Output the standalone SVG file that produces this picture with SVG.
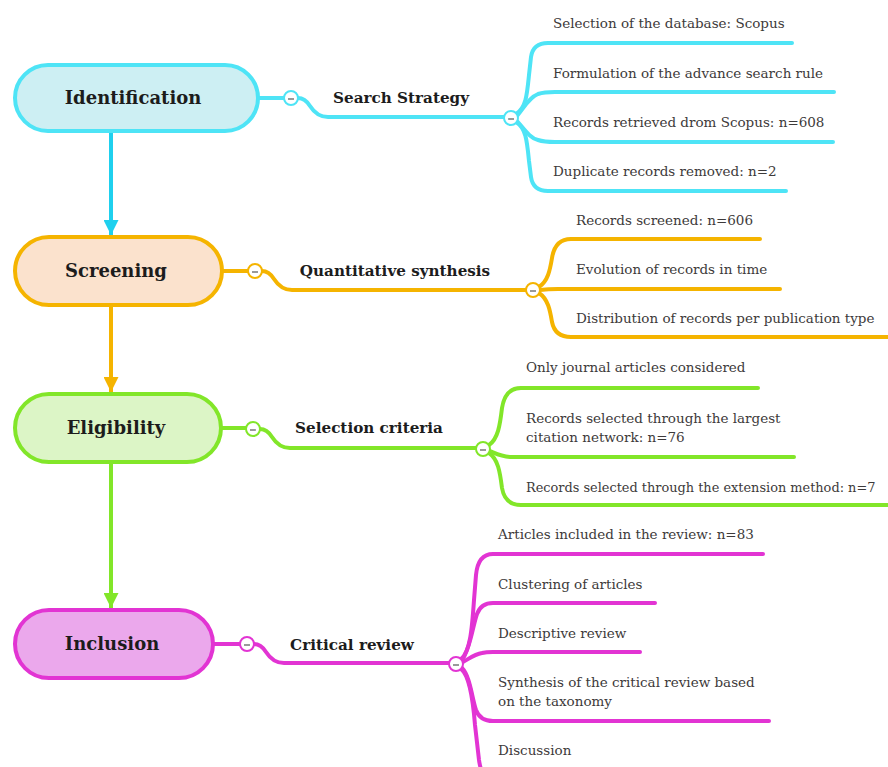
<svg xmlns="http://www.w3.org/2000/svg" width="888" height="767" viewBox="0 0 888 767">
<defs>
<style>
.node{stroke-width:4}
.lbl{font-family:"DejaVu Serif","Liberation Serif",serif;font-weight:bold;fill:#1c1c1c}
.big{font-size:18px}
.mid{font-size:15.2px}
.item{font-family:"DejaVu Serif","Liberation Serif",serif;font-size:13.5px;fill:#3d3a3a}
.br{fill:none;stroke-width:4;stroke-linecap:round;stroke-linejoin:round}
.tog{fill:#fff;stroke-width:2}
.tm{stroke:#555;stroke-width:1.2}
.c{stroke:#4ee4f6}.o{stroke:#f5b400}.g{stroke:#82e629}.m{stroke:#e234d3}
</style>
<marker id="ah-c" viewBox="0 0 10 10" refX="10" refY="5" markerWidth="15" markerHeight="15" markerUnits="userSpaceOnUse" orient="auto"><path d="M0,0 L10,5 L0,10 Z" fill="#1fd0ee"/></marker>
<marker id="ah-o" viewBox="0 0 10 10" refX="10" refY="5" markerWidth="15" markerHeight="15" markerUnits="userSpaceOnUse" orient="auto"><path d="M0,0 L10,5 L0,10 Z" fill="#f5b400"/></marker>
<marker id="ah-g" viewBox="0 0 10 10" refX="10" refY="5" markerWidth="15" markerHeight="15" markerUnits="userSpaceOnUse" orient="auto"><path d="M0,0 L10,5 L0,10 Z" fill="#82e629"/></marker>
</defs>
<rect width="888" height="767" fill="#fff"/>

<g id="connectors">
<line x1="111" y1="132" x2="111" y2="235" stroke="#1fd0ee" stroke-width="4" marker-end="url(#ah-c)"/>
<line x1="111" y1="307" x2="111" y2="392" stroke="#f5b400" stroke-width="4" marker-end="url(#ah-o)"/>
<line x1="111" y1="462" x2="111" y2="608" stroke="#82e629" stroke-width="4" marker-end="url(#ah-g)"/>

<path class="br c" d="M258,98 H284 M298,98 Q305,98 310,106 Q317,117 328,117 H504"/>
<path class="br c" d="M516,114 C526,108 527,95 529,75 L531,57 Q533,43 548,43 H792"/>
<path class="br c" d="M517,116 C525,106 530,97 538,94 Q544,92 555,92 H834"/>
<path class="br c" d="M517,121 C525,130 530,138 538,140 Q544,142 555,142 H833"/>
<path class="br c" d="M516,122 C526,128 527,141 529,161 L531,177 Q533,191 548,191 H786"/>

<path class="br o" d="M222,271 H248 M262,271 Q269,271 274,279 Q281,290 292,290 H526"/>
<path class="br o" d="M539,287 C548,281 550,270 552,258 Q555,239 571,239 H760"/>
<path class="br o" d="M540,290 Q548,289 558,289 H780"/>
<path class="br o" d="M539,293 C548,299 550,310 552,322 Q555,337 571,337 H890"/>

<path class="br g" d="M221,428 H246 M260,429 Q267,429 272,437 Q279,448 290,448 H476"/>
<path class="br g" d="M489,445 C498,439 500,425 502,408 Q505,388 521,388 H758"/>
<path class="br g" d="M490,451 C497,454 502,457 512,457 H794"/>
<path class="br g" d="M489,453 C498,459 500,472 502,488 Q505,505 521,505 H890"/>

<path class="br m" d="M213,644 H240 M254,644 Q261,644 266,652 Q273,663 284,663 H449"/>
<path class="br m" d="M461,659 C470,652 472,630 474,600 L476,575 Q478,554 493,554 H763"/>
<path class="br m" d="M462,660 C470,650 473,625 477,614 Q481,603 493,603 H655"/>
<path class="br m" d="M463,662 C470,658 475,654 482,653 Q486,652 493,652 H640"/>
<path class="br m" d="M462,668 C470,676 472,698 476,710 Q480,721 493,721 H769"/>
<path class="br m" d="M461,669 C470,676 473,700 475,725 L479,760 Q480,767 482,772"/>

<g class="c"><circle class="tog" cx="291" cy="98" r="7"/><line class="tm" x1="288" y1="99" x2="294" y2="99"/></g>
<g class="c"><circle class="tog" cx="511" cy="118" r="7"/><line class="tm" x1="508" y1="119" x2="514" y2="119"/></g>
<g class="o"><circle class="tog" cx="255" cy="271" r="7"/><line class="tm" x1="252" y1="272" x2="258" y2="272"/></g>
<g class="o"><circle class="tog" cx="533" cy="290" r="7"/><line class="tm" x1="530" y1="291" x2="536" y2="291"/></g>
<g class="g"><circle class="tog" cx="253" cy="429" r="7"/><line class="tm" x1="250" y1="430" x2="256" y2="430"/></g>
<g class="g"><circle class="tog" cx="483" cy="449" r="7"/><line class="tm" x1="480" y1="450" x2="486" y2="450"/></g>
<g class="m"><circle class="tog" cx="247" cy="644" r="7"/><line class="tm" x1="244" y1="645" x2="250" y2="645"/></g>
<g class="m"><circle class="tog" cx="456" cy="664" r="7"/><line class="tm" x1="453" y1="665" x2="459" y2="665"/></g>
</g>

<g id="identification">
<rect class="node" x="15" y="65" width="243" height="66" rx="33" fill="#cdeff3" stroke="#4ee4f6"/>
<text class="lbl big" x="133" y="104" text-anchor="middle">Identification</text>
</g>
<g id="search-strategy"><text class="lbl mid" x="401" y="103" text-anchor="middle">Search Strategy</text></g>
<g id="id-items">
<text class="item" x="553" y="28">Selection of the database: Scopus</text>
<text class="item" x="553" y="78">Formulation of the advance search rule</text>
<text class="item" x="553" y="127">Records retrieved drom Scopus: n=608</text>
<text class="item" x="553" y="176">Duplicate records removed: n=2</text>
</g>

<g id="screening">
<rect class="node" x="15" y="237" width="207" height="68" rx="34" fill="#fbe2cd" stroke="#f5b400"/>
<text class="lbl big" x="116" y="277" text-anchor="middle">Screening</text>
</g>
<g id="quantitative-synthesis"><text class="lbl mid" x="395" y="276" text-anchor="middle">Quantitative synthesis</text></g>
<g id="sc-items">
<text class="item" x="576" y="225">Records screened: n=606</text>
<text class="item" x="576" y="274">Evolution of records in time</text>
<text class="item" x="576" y="323">Distribution of records per publication type</text>
</g>

<g id="eligibility">
<rect class="node" x="15" y="394" width="206" height="68" rx="34" fill="#dcf5c6" stroke="#82e629"/>
<text class="lbl big" x="116" y="434" text-anchor="middle">Eligibility</text>
</g>
<g id="selection-criteria"><text class="lbl mid" x="369" y="433" text-anchor="middle">Selection criteria</text></g>
<g id="el-items">
<text class="item" x="526" y="372">Only journal articles considered</text>
<text class="item" x="526" y="423">Records selected through the largest</text>
<text class="item" x="526" y="442">citation network: n=76</text>
<text class="item" x="526" y="492" style="font-size:12.9px">Records selected through the extension method: n=7</text>
</g>

<g id="inclusion">
<rect class="node" x="15" y="610" width="198" height="68" rx="34" fill="#eba8ec" stroke="#e234d3"/>
<text class="lbl big" x="112" y="650" text-anchor="middle">Inclusion</text>
</g>
<g id="critical-review"><text class="lbl mid" x="352" y="650" text-anchor="middle">Critical review</text></g>
<g id="in-items">
<text class="item" x="498" y="539">Articles included in the review: n=83</text>
<text class="item" x="498" y="589">Clustering of articles</text>
<text class="item" x="498" y="638">Descriptive review</text>
<text class="item" x="498" y="687">Synthesis of the critical review based</text>
<text class="item" x="498" y="706">on the taxonomy</text>
<text class="item" x="498" y="755">Discussion</text>
</g>
</svg>
